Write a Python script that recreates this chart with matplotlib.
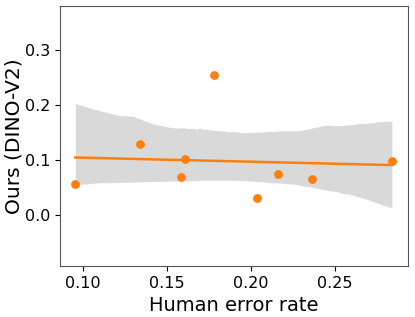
import matplotlib
matplotlib.use("Agg")
import matplotlib.pyplot as plt
import numpy as np

# Values
human_error = [0.0954, 0.1339, 0.1581, 0.1609, 0.1782, 0.2034, 0.2161, 0.2361, 0.2839]
ours_dino = [0.057, 0.129, 0.070, 0.101, 0.255, 0.031, 0.075, 0.066, 0.098]

x_ticks = [0.10, 0.15, 0.20, 0.25]
y_ticks = [0.0, 0.1, 0.2, 0.3]

# band edges, used to pick the bootstrap seed
band_x = [0.0954, 0.15, 0.189, 0.239, 0.2839]
band_lo = [0.059, 0.067, 0.065, 0.058, 0.026]
band_hi = [0.186, 0.150, 0.144, 0.150, 0.162]

x = np.array(human_error)
y = np.array(ours_dino)
n = len(x)
grid = np.linspace(x.min(), x.max(), 100)

# OLS fit
slope, intercept = np.polyfit(x, y, 1)


def boot_band(seed, n_boot=1000):
    rng = np.random.default_rng(seed)
    idx = rng.integers(0, n, (n_boot, n))
    xb, yb = x[idx], y[idx]
    xm = xb.mean(1, keepdims=True)
    ym = yb.mean(1, keepdims=True)
    sxx = ((xb - xm) ** 2).sum(1, keepdims=True)
    sxy = ((xb - xm) * (yb - ym)).sum(1, keepdims=True)
    sxx[sxx == 0] = np.nan
    b = sxy / sxx
    a = ym - b * xm
    preds = a + b * grid[None, :]
    return np.nanpercentile(preds, [2.5, 97.5], axis=0)


best, best_err = None, np.inf
for seed in range(150):
    lo, hi = boot_band(seed)
    err = (np.sum((np.interp(band_x, grid, lo) - band_lo) ** 2)
           + np.sum((np.interp(band_x, grid, hi) - band_hi) ** 2))
    if err < best_err:
        best, best_err = (lo, hi), err
lo, hi = best

fig = plt.figure(figsize=(4.15, 3.17), dpi=100)
ax = fig.add_axes([60 / 415, 51 / 317, 348 / 415, 260 / 317])

ax.fill_between(grid, lo, hi, color="black", alpha=0.15, linewidth=0)
ax.plot(grid, intercept + slope * grid, color="#ff7f0e", lw=1.8)
ax.scatter(x, y, color="#ff7f0e", s=28, zorder=3)

ax.set_xlim(0.0863, 0.2935)
ax.set_ylim(-0.0927, 0.38)
ax.set_xticks(x_ticks)
ax.set_yticks(y_ticks)
ax.tick_params(labelsize=11.5)
ax.set_xlabel("Human error rate", fontsize=14)
ax.set_ylabel("Ours (DINO-V2)", fontsize=14.5, labelpad=1)
for s in ax.spines.values():
    s.set_color("#555555")

fig.savefig("out.png", dpi=100)
